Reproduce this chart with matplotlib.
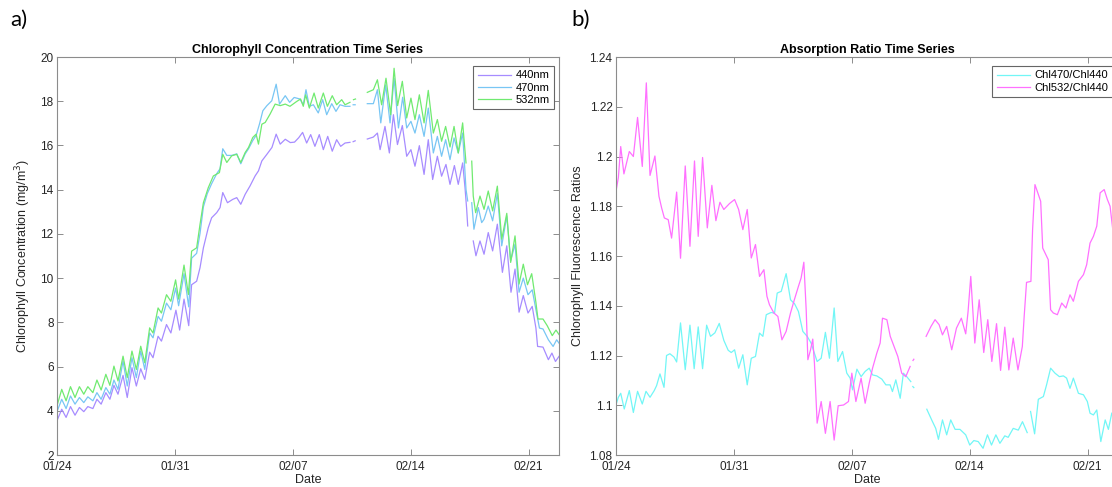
import numpy as np
import matplotlib
matplotlib.use("Agg")
import matplotlib.pyplot as plt

nan = np.nan

# x values are days since 01/24; nan rows are gaps in the record
chl_440 = np.array([
    (0.00, 3.55), (0.28, 4.07), (0.54, 3.70), (0.80, 4.19), (1.07, 3.80), (1.33, 4.15),
    (1.59, 3.96), (1.83, 4.19), (2.13, 4.10), (2.37, 4.52), (2.62, 4.30), (2.90, 4.82),
    (3.14, 4.52), (3.38, 5.15), (3.62, 4.75), (3.92, 5.60), (4.17, 4.60), (4.45, 5.95),
    (4.71, 5.12), (4.97, 5.90), (5.21, 5.42), (5.50, 6.65), (5.70, 6.40), (6.00, 7.37),
    (6.20, 7.15), (6.50, 7.90), (6.76, 7.52), (7.06, 8.55), (7.28, 7.65), (7.54, 9.05),
    (7.82, 7.85), (7.99, 9.70), (8.29, 9.86), (8.49, 10.47), (8.69, 11.37), (8.98, 12.28),
    (9.18, 12.73), (9.48, 12.96), (9.68, 13.19), (9.84, 13.87), (10.12, 13.41), (10.43, 13.56),
    (10.67, 13.64), (10.91, 13.34), (11.17, 13.79), (11.46, 14.17), (11.76, 14.62), (11.96, 14.85),
    (12.16, 15.30), (12.46, 15.60), (12.76, 15.91), (13.01, 16.51), (13.25, 16.06), (13.55, 16.28),
    (13.85, 16.13), (14.10, 16.15), (14.35, 16.35), (14.58, 16.59), (14.82, 16.11), (15.06, 16.49),
    (15.31, 15.96), (15.57, 16.49), (15.81, 15.81), (16.07, 16.41), (16.34, 15.74), (16.60, 16.26),
    (16.84, 15.96), (17.10, 16.11), (17.39, 16.14), (17.50, nan), (17.58, 16.17), (17.70, 16.21),
    (17.75, nan), (18.42, 16.29), (18.78, 16.38), (19.02, 16.56), (19.18, 15.81), (19.47, 16.86),
    (19.73, 15.66), (19.97, 17.39), (20.21, 16.04), (20.50, 16.90), (20.76, 15.51), (21.01, 15.81),
    (21.25, 15.06), (21.51, 15.99), (21.79, 14.69), (22.04, 16.26), (22.30, 14.46), (22.58, 15.51),
    (22.83, 14.61), (23.09, 15.14), (23.33, 14.24), (23.59, 15.09), (23.82, 14.24), (24.08, 15.21),
    (24.22, 14.09), (24.32, 13.11), (24.38, 12.36), (24.50, nan), (24.71, 11.68), (24.87, 11.01),
    (25.11, 11.68), (25.35, 11.08), (25.60, 12.06), (25.86, 11.23), (26.14, 12.44), (26.44, 10.26),
    (26.70, 11.46), (26.95, 9.36), (27.19, 10.41), (27.43, 8.46), (27.68, 9.21), (27.96, 8.42),
    (28.21, 8.72), (28.43, 7.74), (28.53, 6.91), (28.85, 6.88), (29.17, 6.31), (29.38, 6.61),
    (29.59, 6.23), (29.80, 6.46),
])

chl_470 = np.array([
    (0.00, 3.96), (0.28, 4.52), (0.54, 4.10), (0.80, 4.67), (1.07, 4.30), (1.33, 4.60),
    (1.59, 4.37), (1.83, 4.63), (2.13, 4.45), (2.37, 4.82), (2.62, 4.52), (2.90, 5.05),
    (3.14, 4.75), (3.38, 5.39), (3.62, 4.97), (3.92, 6.25), (4.17, 5.12), (4.45, 6.40),
    (4.71, 5.50), (4.97, 6.70), (5.21, 5.87), (5.50, 7.52), (5.70, 7.30), (6.00, 8.27),
    (6.20, 8.05), (6.50, 8.87), (6.76, 8.57), (7.04, 9.55), (7.22, 8.75), (7.54, 10.20),
    (7.82, 8.70), (7.99, 10.90), (8.29, 11.12), (8.49, 12.02), (8.69, 13.22), (8.92, 13.82),
    (9.18, 14.27), (9.48, 14.72), (9.68, 14.95), (9.84, 15.85), (10.08, 15.55), (10.37, 15.55),
    (10.67, 15.62), (10.91, 15.17), (11.17, 15.62), (11.37, 15.85), (11.62, 16.22), (11.82, 16.45),
    (12.02, 16.97), (12.22, 17.57), (12.46, 17.80), (12.75, 18.02), (13.01, 18.77), (13.21, 17.87),
    (13.55, 18.25), (13.81, 17.95), (14.08, 18.17), (14.42, 18.10), (14.62, 17.84), (14.78, 18.52),
    (14.98, 17.77), (15.22, 17.84), (15.51, 17.47), (15.77, 18.07), (16.01, 17.39), (16.31, 17.89),
    (16.56, 17.54), (16.80, 17.84), (17.10, 17.77), (17.39, 17.77), (17.50, nan), (17.58, 17.84),
    (17.70, 17.84), (17.75, nan), (18.42, 17.89), (18.78, 17.89), (19.02, 18.52), (19.22, 17.02),
    (19.51, 18.74), (19.77, 17.02), (20.01, 19.04), (20.27, 16.79), (20.52, 18.18), (20.76, 16.79),
    (21.01, 17.09), (21.25, 16.56), (21.51, 17.39), (21.79, 16.41), (22.04, 17.69), (22.34, 15.66),
    (22.58, 16.41), (22.83, 15.51), (23.07, 16.26), (23.33, 15.36), (23.57, 16.34), (23.82, 15.66),
    (24.08, 16.56), (24.28, 14.01), (24.38, 13.49), (24.50, nan), (24.62, 13.41), (24.75, 12.21),
    (25.01, 13.19), (25.21, 12.51), (25.35, 12.66), (25.60, 13.26), (25.86, 12.59), (26.14, 13.83),
    (26.40, 11.46), (26.70, 12.81), (26.93, 10.78), (27.19, 11.53), (27.43, 9.36), (27.68, 10.00),
    (27.96, 9.25), (28.21, 9.47), (28.43, 8.57), (28.64, 7.74), (28.85, 7.70), (29.17, 7.21),
    (29.45, 6.91), (29.66, 7.21), (29.80, 7.06),
])

chl_532 = np.array([
    (0.00, 4.22), (0.28, 4.97), (0.54, 4.45), (0.80, 5.09), (1.07, 4.60), (1.33, 5.09),
    (1.59, 4.75), (1.83, 5.09), (2.13, 4.82), (2.37, 5.39), (2.62, 4.94), (2.90, 5.65),
    (3.14, 5.15), (3.38, 6.02), (3.62, 5.35), (3.92, 6.47), (4.17, 5.50), (4.45, 6.70),
    (4.71, 5.87), (4.97, 6.92), (5.21, 6.17), (5.50, 7.75), (5.70, 7.52), (6.00, 8.65),
    (6.20, 8.42), (6.50, 9.25), (6.76, 8.95), (7.04, 9.92), (7.22, 9.05), (7.54, 10.59),
    (7.80, 9.26), (7.99, 11.22), (8.29, 11.37), (8.49, 12.43), (8.69, 13.41), (8.98, 14.09),
    (9.28, 14.62), (9.64, 14.77), (9.84, 15.60), (10.08, 15.23), (10.37, 15.53), (10.67, 15.60),
    (10.91, 15.23), (11.17, 15.68), (11.37, 15.91), (11.62, 16.36), (11.82, 16.51), (11.96, 16.06),
    (12.16, 16.96), (12.36, 17.04), (12.65, 17.42), (12.95, 17.87), (13.25, 17.80), (13.55, 17.87),
    (13.83, 17.77), (14.23, 17.99), (14.46, 18.10), (14.62, 17.77), (14.76, 18.29), (14.98, 17.69),
    (15.26, 18.37), (15.51, 17.69), (15.81, 18.37), (16.05, 17.77), (16.34, 18.25), (16.60, 17.84),
    (16.90, 18.07), (17.10, 17.84), (17.39, 17.95), (17.50, nan), (17.60, 18.07), (17.72, 18.10),
    (17.75, nan), (18.42, 18.40), (18.78, 18.52), (19.02, 18.97), (19.27, 17.84), (19.53, 19.04),
    (19.81, 17.39), (20.01, 19.49), (20.22, 17.80), (20.50, 18.90), (20.76, 17.24), (21.01, 18.14),
    (21.25, 17.17), (21.51, 18.29), (21.79, 17.02), (22.04, 18.49), (22.34, 16.56), (22.58, 17.17),
    (22.83, 16.19), (23.07, 16.86), (23.33, 15.93), (23.57, 16.86), (23.82, 15.66), (24.08, 17.02),
    (24.28, 15.21), (24.50, nan), (24.62, 15.29), (24.71, 13.71), (24.85, 12.96), (25.11, 13.71),
    (25.35, 13.11), (25.60, 13.94), (25.86, 13.04), (26.14, 14.16), (26.40, 11.76), (26.70, 12.93),
    (26.93, 10.71), (27.19, 11.91), (27.43, 9.73), (27.68, 10.63), (27.93, 9.70), (28.18, 10.20),
    (28.43, 8.90), (28.55, 8.15), (28.85, 8.15), (29.10, 7.85), (29.40, 7.40), (29.62, 7.65),
    (29.80, 7.45),
])

ratio_470 = np.array([
    (0.00, 1.1002), (0.14, 1.1032), (0.28, 1.1048), (0.49, 1.0985), (0.79, 1.1059), (1.03, 1.0971),
    (1.28, 1.1056), (1.56, 1.1005), (1.78, 1.1056), (2.02, 1.1032), (2.27, 1.1059), (2.41, 1.1079),
    (2.61, 1.1126), (2.85, 1.1072), (3.00, 1.1200), (3.20, 1.1207), (3.44, 1.1194), (3.60, 1.1174),
    (3.83, 1.1331), (4.11, 1.1143), (4.39, 1.1322), (4.64, 1.1147), (4.88, 1.1315), (5.14, 1.1147),
    (5.38, 1.1322), (5.61, 1.1277), (5.87, 1.1291), (6.13, 1.1329), (6.40, 1.1261), (6.66, 1.1221),
    (6.84, 1.1212), (7.04, 1.1223), (7.28, 1.1149), (7.53, 1.1203), (7.79, 1.1082), (8.03, 1.1189),
    (8.28, 1.1196), (8.52, 1.1290), (8.72, 1.1277), (8.92, 1.1364), (9.21, 1.1373), (9.41, 1.1370),
    (9.57, 1.1451), (9.81, 1.1458), (10.10, 1.1529), (10.36, 1.1424), (10.60, 1.1408), (10.83, 1.1377),
    (11.09, 1.1297), (11.35, 1.1277), (11.58, 1.1250), (11.78, 1.1209), (11.94, 1.1176), (12.18, 1.1189),
    (12.43, 1.1293), (12.67, 1.1189), (12.95, 1.1391), (13.17, 1.1176), (13.45, 1.1216), (13.70, 1.1129),
    (13.90, 1.1109), (14.04, 1.1062), (14.30, 1.1145), (14.55, 1.1115), (14.79, 1.1136), (15.03, 1.1149),
    (15.23, 1.1122), (15.48, 1.1118), (15.78, 1.1105), (16.02, 1.1082), (16.27, 1.1082), (16.41, 1.1055),
    (16.61, 1.1102), (16.87, 1.1028), (17.06, 1.1129), (17.26, 1.1115), (17.50, 1.1095), (17.56, nan),
    (17.62, 1.1075), (17.68, 1.1071), (17.75, nan), (18.45, 1.0984), (18.74, 1.0941), (18.98, 1.0907),
    (19.14, 1.0863), (19.38, 1.0941), (19.63, 1.0881), (19.87, 1.0941), (20.13, 1.0903), (20.42, 1.0903),
    (20.76, 1.0881), (21.00, 1.0840), (21.24, 1.0858), (21.50, 1.0854), (21.79, 1.0827), (22.05, 1.0881),
    (22.29, 1.0840), (22.55, 1.0881), (22.79, 1.0847), (23.08, 1.0877), (23.28, 1.0871), (23.58, 1.0907),
    (23.88, 1.0900), (24.13, 1.0934), (24.41, 1.0890), (24.50, nan), (24.61, 1.0975), (24.85, 1.0885),
    (25.07, 1.1024), (25.37, 1.1035), (25.56, 1.1082), (25.80, 1.1149), (26.06, 1.1129), (26.32, 1.1115),
    (26.56, 1.1118), (26.75, 1.1109), (26.95, 1.1068), (27.15, 1.1109), (27.45, 1.1048), (27.75, 1.1042),
    (27.98, 1.1015), (28.14, 1.0968), (28.34, 1.0961), (28.54, 1.0981), (28.64, 1.0928), (28.78, 1.0854),
    (29.04, 1.0941), (29.23, 1.0903), (29.43, 1.0968), (29.65, 1.0981),
])

ratio_532 = np.array([
    (0.00, 1.1860), (0.14, 1.1915), (0.28, 1.2040), (0.47, 1.1930), (0.79, 1.2020), (1.03, 1.2000),
    (1.28, 1.2157), (1.56, 1.1960), (1.80, 1.2296), (2.02, 1.1924), (2.31, 1.2002), (2.55, 1.1840),
    (2.71, 1.1793), (2.87, 1.1753), (3.10, 1.1746), (3.30, 1.1672), (3.60, 1.1857), (3.83, 1.1591),
    (4.11, 1.1962), (4.39, 1.1639), (4.66, 1.1982), (4.88, 1.1679), (5.14, 1.1996), (5.42, 1.1713),
    (5.69, 1.1884), (5.93, 1.1742), (6.17, 1.1816), (6.40, 1.1787), (6.74, 1.1811), (7.04, 1.1827),
    (7.28, 1.1787), (7.53, 1.1706), (7.79, 1.1787), (8.03, 1.1592), (8.28, 1.1646), (8.52, 1.1518),
    (8.78, 1.1545), (8.96, 1.1438), (9.11, 1.1404), (9.37, 1.1371), (9.61, 1.1357), (9.85, 1.1263),
    (10.10, 1.1297), (10.36, 1.1371), (10.56, 1.1418), (10.83, 1.1478), (10.99, 1.1512), (11.15, 1.1575),
    (11.29, 1.1384), (11.39, 1.1183), (11.55, 1.1223), (11.68, 1.1266), (11.78, 1.1169), (11.94, 1.0928),
    (12.18, 1.1015), (12.43, 1.0887), (12.71, 1.1015), (12.95, 1.0860), (13.19, 1.0998), (13.51, 1.1001),
    (13.80, 1.1015), (14.00, 1.1129), (14.24, 1.1015), (14.55, 1.1109), (14.79, 1.1008), (15.03, 1.1089),
    (15.23, 1.1149), (15.48, 1.1209), (15.68, 1.1250), (15.82, 1.1350), (16.08, 1.1344), (16.28, 1.1277),
    (16.47, 1.1243), (16.73, 1.1196), (16.96, 1.1129), (17.20, 1.1115), (17.46, 1.1156), (17.56, nan),
    (17.63, 1.1180), (17.68, 1.1185), (17.75, nan), (18.41, 1.1277), (18.70, 1.1317), (18.94, 1.1344),
    (19.18, 1.1324), (19.38, 1.1283), (19.63, 1.1317), (19.93, 1.1223), (20.21, 1.1310), (20.50, 1.1350),
    (20.76, 1.1287), (20.90, 1.1377), (21.06, 1.1518), (21.30, 1.1250), (21.56, 1.1424), (21.83, 1.1212),
    (22.07, 1.1344), (22.31, 1.1176), (22.59, 1.1328), (22.83, 1.1140), (23.08, 1.1314), (23.32, 1.1142),
    (23.58, 1.1270), (23.86, 1.1142), (24.12, 1.1236), (24.23, 1.1357), (24.37, 1.1494), (24.63, 1.1498),
    (24.73, 1.1706), (24.87, 1.1887), (25.07, 1.1847), (25.21, 1.1820), (25.33, 1.1632), (25.52, 1.1605),
    (25.66, 1.1585), (25.80, 1.1384), (25.96, 1.1371), (26.20, 1.1364), (26.46, 1.1411), (26.71, 1.1391),
    (26.95, 1.1444), (27.15, 1.1418), (27.45, 1.1498), (27.75, 1.1525), (27.94, 1.1565), (28.14, 1.1652),
    (28.34, 1.1679), (28.54, 1.1720), (28.74, 1.1854), (28.98, 1.1867), (29.17, 1.1827), (29.33, 1.1800),
    (29.49, 1.1706), (29.59, 1.1572), (29.65, 1.1570),
])

day_ticks = [0, 7, 14, 21, 28]
day_labels = ["01/24", "01/31", "02/07", "02/14", "02/21"]
chl_ticks = [2, 4, 6, 8, 10, 12, 14, 16, 18, 20]
ratio_ticks = [1.08, 1.10, 1.12, 1.14, 1.16, 1.18, 1.20, 1.22, 1.24]

plt.rcParams["font.family"] = ["Liberation Sans", "DejaVu Sans"]

W, H = 1112, 487
fig = plt.figure(figsize=(W / 100, H / 100), dpi=100)
ax1 = fig.add_axes([57 / W, 32 / H, 502 / W, 398 / H])
ax2 = fig.add_axes([616 / W, 32 / H, 502 / W, 398 / H])


def style_axes(ax):
    for s in ax.spines.values():
        s.set_color("#8c8c8c")
        s.set_linewidth(0.8)
    ax.tick_params(direction="in", length=4, width=0.7, color="#8c8c8c",
                   top=True, right=True, labelsize=8.5, labelcolor="#262626")
    ax.tick_params(axis="x", pad=4)
    ax.tick_params(axis="y", pad=2.5)
    ax.set_xlim(0, 29.8)
    ax.set_xticks(day_ticks)
    ax.set_xticklabels(day_labels)
    ax.set_xlabel("Date", fontsize=9, color="#262626", labelpad=1)


lw = 0.9
ax1.plot(chl_440[:, 0], chl_440[:, 1], color="#a78cff", lw=lw, label="440nm")
ax1.plot(chl_470[:, 0], chl_470[:, 1], color="#78c6f4", lw=lw, label="470nm")
ax1.plot(chl_532[:, 0], chl_532[:, 1], color="#70ea70", lw=lw, label="532nm")
style_axes(ax1)
ax1.set_ylim(2, 20)
ax1.set_yticks(chl_ticks)
ax1.set_ylabel("Chlorophyll Concentration (mg/m$^3$)", fontsize=9, color="#262626", labelpad=5)
ax1.set_title("Chlorophyll Concentration Time Series", fontsize=9, fontweight="bold", pad=3)

ax2.plot(ratio_470[:, 0], ratio_470[:, 1], color="#72f6f6", lw=lw, label="Chl470/Chl440")
ax2.plot(ratio_532[:, 0], ratio_532[:, 1], color="#ff70ff", lw=lw, label="Chl532/Chl440")
style_axes(ax2)
ax2.set_ylim(1.08, 1.24)
ax2.set_yticks(ratio_ticks)
ax2.set_yticklabels([f"{v:g}" for v in ratio_ticks])
ax2.set_ylabel("Chlorophyll Fluorescence Ratios", fontsize=9, color="#262626", labelpad=4)
ax2.set_title("Absorption Ratio Time Series", fontsize=9, fontweight="bold", pad=3)

for ax in (ax1, ax2):
    leg = ax.legend(loc="upper right", bbox_to_anchor=(1 - 5 / 502, 1 - 9 / 398),
                    borderaxespad=0, fontsize=8, fancybox=False, framealpha=1,
                    edgecolor="#666666", handlelength=3.0, handletextpad=0.4,
                    labelspacing=0.2, borderpad=0.4)
    leg.get_frame().set_linewidth(0.8)

fig.text(10 / W, 1 - 10 / H, "a)", fontsize=16, family="Lato", va="top")
fig.text(571 / W, 1 - 10 / H, "b)", fontsize=16, family="Lato", va="top")

fig.savefig("out.png", dpi=100)
